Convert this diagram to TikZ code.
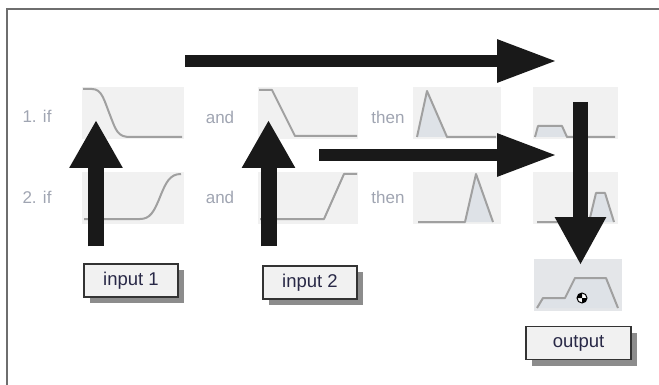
\documentclass[tikz,border=0pt]{standalone}
\usepackage{fontspec}
\setmainfont{Liberation Sans}
\usetikzlibrary{arrows.meta,shadows}
\definecolor{panelbg}{RGB}{241,241,241}
\definecolor{outbg}{RGB}{228,230,233}
\definecolor{curve}{RGB}{160,160,160}
\definecolor{mffill}{RGB}{222,226,231}
\definecolor{lbl}{RGB}{160,165,178}
\definecolor{boxtxt}{RGB}{40,40,70}
\definecolor{frame}{RGB}{110,110,110}
\tikzset{
  panel/.style={fill=panelbg, draw=none, inner sep=0, anchor=north west},
  mf/.style={draw=curve, line width=2pt, line join=round},
  mfarea/.style={fill=mffill, draw=none},
  lab/.style={text=lbl, font=\fontsize{17}{19}\selectfont, inner sep=0},
  iobox/.style={draw=black!80, line width=1.5pt, fill=panelbg, text=boxtxt,
     font=\fontsize{18.5}{20}\selectfont, minimum height=33pt, inner sep=0,
     drop shadow={shadow xshift=6pt, shadow yshift=-6pt, fill=black!45, opacity=1}},
  bigh/.style={line width=12pt, -{Triangle[length=60pt,width=40pt]}, draw=black!90},
  bigv/.style={line width=16pt, -{Triangle[length=48pt,width=50pt]}, draw=black!90},
}
\begin{document}
\begin{tikzpicture}[x=1pt,y=-1pt]
\useasboundingbox (0,0) rectangle (659,385);
\fill[white] (0,0) rectangle (659,385);
% frame (only left and top edges visible)
\draw[frame, line width=2pt] (7,395) -- (7,9) -- (670,9);

% panels
\path[panel] (82,87) rectangle (184,139);
\path[panel] (258,87) rectangle (358,139);
\path[panel] (413,87) rectangle (501,139);
\path[panel] (533,87) rectangle (618,139);
\path[panel] (82,172) rectangle (184,224);
\path[panel] (258,172) rectangle (358,224);
\path[panel] (413,172) rectangle (501,224);
\path[panel] (533,172) rectangle (618,224);
\path[fill=outbg] (534,259) rectangle (622,311);

% row 1 membership functions
\draw[mf] (83,89) -- (92,89) .. controls (102,89) and (104,100) .. (110,115)
   .. controls (116,131) and (118,137) .. (130,137) -- (182,137);
\draw[mf] (259,90) -- (272,90) -- (295,136) -- (357,136);
\fill[mfarea] (417,137) -- (427,91) -- (447,137) -- cycle;
\draw[mf] (417,137) -- (427,91) -- (447,137) -- (496,137);
\fill[mfarea] (535,137) -- (538,126) -- (562,126) -- (567,137) -- cycle;
\draw[mf] (535,137) -- (538,126) -- (562,126) -- (567,137) -- (615,137);

% row 2 membership functions
\draw[mf] (84,219) -- (140,219) .. controls (150,219) and (154,212) .. (160,197)
   .. controls (166,182) and (170,174) .. (181,174);
\draw[mf] (260,219) -- (324,219) -- (344,174) -- (357,174);
\fill[mfarea] (465,222) -- (476,174) -- (493,222) -- cycle;
\draw[mf] (418,222) -- (465,222) -- (476,174) -- (493,222);
\fill[mfarea] (589,222) -- (596,193) -- (605,193) -- (614,222) -- cycle;
\draw[mf] (537,222) -- (589,222) -- (596,193) -- (605,193) -- (614,222);

% aggregated output
\fill[mfarea] (537,308) -- (543,298) -- (565,298) -- (575,278) -- (606,278) -- (618,308) -- cycle;
\draw[mf] (537,308) -- (543,298) -- (565,298) -- (575,278) -- (606,278) -- (618,308);
% centroid marker
\node[circle, fill=white, draw=black, line width=1pt, minimum size=10pt, inner sep=0] (cog) at (582,298) {};
\fill[black] (cog.center) -- ++(-5,0) arc[start angle=180, end angle=90, radius=5pt] -- cycle;
\fill[black] (cog.center) -- ++(5,0) arc[start angle=0, end angle=-90, radius=5pt] -- cycle;

% labels
\node[lab] (l1) at (37,116) {1. if};
\node[lab] (l2) at (37,197) {2. if};
\node[lab] (a1) at (220,117) {and};
\node[lab] (a2) at (220,197) {and};
\node[lab] (t1) at (388,117) {then};
\node[lab] (t2) at (388,197) {then};

% io boxes
\node[iobox, minimum width=94pt] (in1) at (131,280.5) {input 1};
\node[iobox, minimum width=94pt] (in2) at (310,282.5) {input 2};
\node[iobox, minimum width=105pt] (out) at (578.5,343) {output};

% arrows
\coordinate (h1s) at (185,61);
\coordinate (h1e) at (557,61);
\coordinate (h2s) at (319,155);
\coordinate (h2e) at (557,155);
\coordinate (u1e) at (96,120);
\coordinate (u2e) at (268.5,120);
\coordinate (ds) at (580.5,102);
\coordinate (de) at (580.5,265);
\draw[bigh] (h1s) -- (h1e);
\draw[bigh] (h2s) -- (h2e);
\draw[bigv] (in1.north -| u1e) ++(0,-17) coordinate (u1s) -- (u1e);
\draw[bigv] (in2.north -| u2e) ++(0,-19) coordinate (u2s) -- (u2e);
\draw[line width=15pt, -{Triangle[length=48pt,width=48pt]}, draw=black!90] (ds) -- (de);
\end{tikzpicture}
\end{document}
